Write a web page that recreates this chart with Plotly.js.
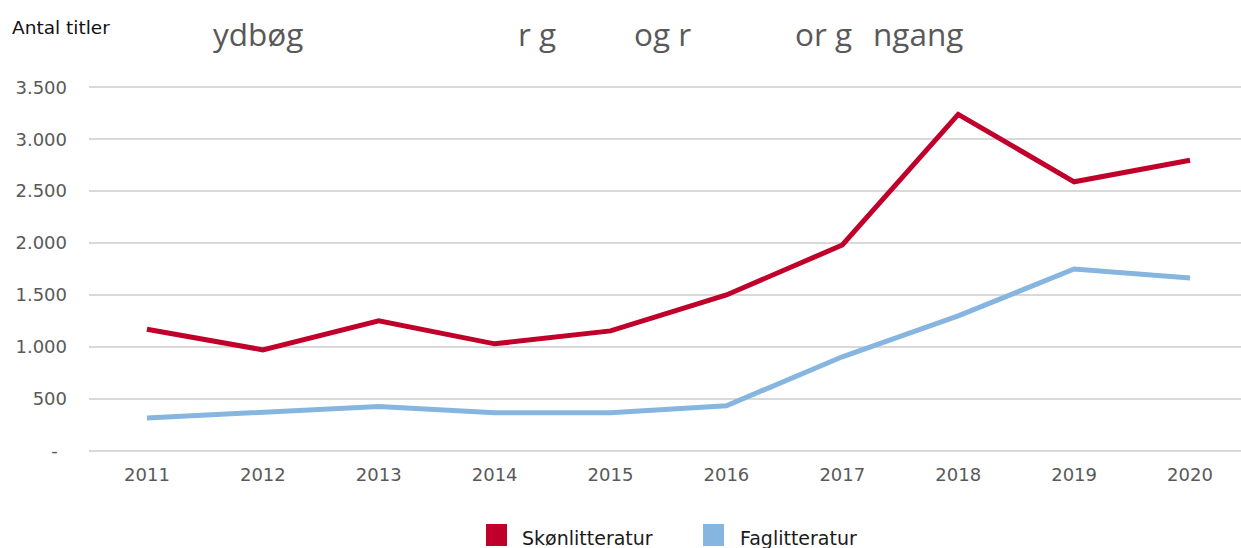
<!DOCTYPE html>
<html>
<head>
<meta charset="utf-8">
<script src="https://cdn.plot.ly/plotly-3.0.1.min.js"></script>
<style>html,body{margin:0;padding:0;background:#fff;}#chart{width:1241px;height:548px;}</style>
</head>
<body>
<div id="chart"></div>
<script>
const years = ['2011','2012','2013','2014','2015','2016','2017','2018','2019','2020'];
const skonlitteratur = [1170, 971, 1250, 1029, 1154, 1500, 1981, 3240, 2590, 2798];
const faglitteratur = [314, 365, 426, 365, 365, 433, 904, 1298, 1750, 1663];
const yTickVals = [0, 500, 1000, 1500, 2000, 2500, 3000, 3500];
const yTickText = ['-\u00a0\u2009', '500', '1.000', '1.500', '2.000', '2.500', '3.000', '3.500'];
const seriesNames = ['Skønlitteratur', 'Faglitteratur'];
const seriesColors = ['#C0002B', '#86B6DF'];
const titleFragments = [
  {text: 'ydbøg', px: 213},
  {text: 'r g', px: 518},
  {text: 'og r', px: 634},
  {text: 'or g', px: 795},
  {text: 'ngang', px: 873}
];

const L = 89, T = 77, B = 87, W = 1241, H = 548;
const pw = W - L, ph = H - T - B;
const px2x = p => (p - L) / pw;
const py2y = p => (H - B - p) / ph;

const traces = [
  {x: years, y: skonlitteratur, type: 'scatter', mode: 'lines', name: seriesNames[0],
   line: {color: seriesColors[0], width: 5}, showlegend: false, hoverinfo: 'x+y'},
  {x: years, y: faglitteratur, type: 'scatter', mode: 'lines', name: seriesNames[1],
   line: {color: seriesColors[1], width: 5}, showlegend: false, hoverinfo: 'x+y'}
];

const annotations = [];
annotations.push({text: 'Antal titler', xref: 'paper', yref: 'paper', x: px2x(10), y: py2y(27),
  xanchor: 'left', yanchor: 'middle', showarrow: false,
  font: {family: 'DejaVu Sans', size: 18.5, color: '#111111'}});
titleFragments.forEach(f => annotations.push({text: f.text, xref: 'paper', yref: 'paper',
  x: px2x(f.px - 2), y: py2y(34), xanchor: 'left', yanchor: 'middle', showarrow: false,
  font: {family: 'Open Sans', size: 31.5, color: '#595959'}}));
const legendItems = [
  {sq: 486, tx: 520},
  {sq: 703, tx: 738}
];
const shapes = [];
legendItems.forEach((it, i) => {
  shapes.push({type: 'rect', xref: 'paper', yref: 'paper', x0: px2x(it.sq), x1: px2x(it.sq + 21),
    y0: py2y(546), y1: py2y(524), fillcolor: seriesColors[i], line: {width: 0}});
  annotations.push({text: seriesNames[i], xref: 'paper', yref: 'paper', x: px2x(it.tx), y: py2y(538),
    xanchor: 'left', yanchor: 'middle', showarrow: false,
    font: {family: 'DejaVu Sans', size: 19, color: '#1a1a1a'}});
});

const layout = {
  width: W, height: H,
  margin: {l: L, r: 0, t: T, b: B, pad: 0},
  paper_bgcolor: '#ffffff', plot_bgcolor: '#ffffff',
  showlegend: false,
  xaxis: {type: 'category', range: [-0.5, 9.44], showgrid: false, zeroline: false,
    showline: false, ticks: '', ticklabelstandoff: 1,
    tickfont: {family: 'DejaVu Sans', size: 18, color: '#595959'}, fixedrange: true},
  yaxis: {range: [-100, 3600], tickvals: yTickVals, ticktext: yTickText,
    showgrid: true, gridcolor: '#d9d9d9', gridwidth: 2, zeroline: false, showline: false,
    ticks: '', ticklabelstandoff: 21,
    tickfont: {family: 'DejaVu Sans', size: 18, color: '#595959'}, fixedrange: true},
  annotations: annotations,
  shapes: shapes
};

Plotly.newPlot('chart', traces, layout, {displayModeBar: false, staticPlot: true});
</script>
</body>
</html>
